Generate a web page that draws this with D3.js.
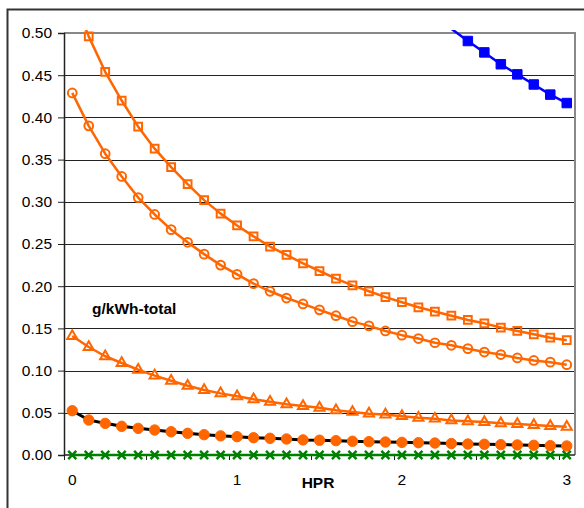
<!DOCTYPE html>
<html>
<head>
<meta charset="utf-8">
<script src="https://cdn.jsdelivr.net/npm/d3@7"></script>
<style>
  body { margin: 0; background: #fff; }
  text { font-family: "Liberation Sans", Arial, sans-serif; fill: #000; }
</style>
</head>
<body>
<div id="chart"></div>
<script>
'use strict';

// HPR categories (x axis)
const hpr = [0, 0.1, 0.2, 0.3, 0.4, 0.5, 0.6, 0.7, 0.8, 0.9,
             1, 1.1, 1.2, 1.3, 1.4, 1.5, 1.6, 1.7, 1.8, 1.9,
             2, 2.1, 2.2, 2.3, 2.4, 2.5, 2.6, 2.7, 2.8, 2.9, 3];
const xTickLabels = ["0", "1", "2", "3"];
const yTicks = [0, 0.05, 0.10, 0.15, 0.20, 0.25, 0.30, 0.35, 0.40, 0.45, 0.50];

// series
const openSquares = [0.544, 0.496, 0.454, 0.420, 0.389, 0.363, 0.341, 0.321, 0.302, 0.286,
                     0.272, 0.259, 0.247, 0.237, 0.227, 0.218, 0.209, 0.201, 0.194, 0.187,
                     0.181, 0.175, 0.170, 0.165, 0.160, 0.156, 0.151, 0.147, 0.143, 0.139, 0.136];
const openCircles = [0.429, 0.390, 0.357, 0.330, 0.305, 0.285, 0.267, 0.252, 0.238, 0.225,
                     0.214, 0.203, 0.194, 0.186, 0.179, 0.172, 0.165, 0.158, 0.153, 0.147,
                     0.142, 0.138, 0.133, 0.130, 0.126, 0.122, 0.119, 0.115, 0.112, 0.110, 0.107];
const triangles = [0.141, 0.128, 0.117, 0.109, 0.101, 0.094, 0.088, 0.082, 0.077, 0.073,
                   0.0695, 0.066, 0.063, 0.060, 0.058, 0.056, 0.053, 0.051, 0.049, 0.048,
                   0.046, 0.044, 0.043, 0.041, 0.040, 0.039, 0.0375, 0.0367, 0.0355, 0.0344, 0.0335];
const filledCircles = [0.0525, 0.0415, 0.0375, 0.034, 0.0316, 0.0296, 0.0276, 0.0257, 0.0241, 0.0227,
                       0.0217, 0.0205, 0.0198, 0.019, 0.0179, 0.0175, 0.017, 0.0163, 0.0158, 0.0154,
                       0.015, 0.0146, 0.0142, 0.0136, 0.013, 0.0127, 0.0123, 0.0119, 0.0115, 0.0111, 0.0107];
const crosses = [0, 0, 0, 0, 0, 0, 0, 0, 0, 0, 0, 0, 0, 0, 0, 0,
                 0, 0, 0, 0, 0, 0, 0, 0, 0, 0, 0, 0, 0, 0, 0];
// only the right end is inside the plot, the rest runs above 0.50
const blueSquares = [null, null, null, null, null, null, null, null, null, null,
                     null, null, null, null, null, null, null, null, null, null,
                     null, null, 0.520, 0.505, 0.4905, 0.477, 0.463, 0.451, 0.439, 0.427, 0.417];

const W = 584, H = 508;
const margin = { top: 33, right: 9, bottom: 53, left: 64 };
const width = W - margin.left - margin.right,
      height = H - margin.top - margin.bottom;

const svg = d3.select("#chart").append("svg")
    .attr("width", W)
    .attr("height", H);

// chart area border (runs off the right/bottom of the picture)
svg.append("rect")
    .attr("x", 7.5).attr("y", 9.5)
    .attr("width", 700).attr("height", 700)
    .attr("fill", "none")
    .attr("stroke", "#333")
    .attr("stroke-width", 2);

const g = svg.append("g")
    .attr("transform", "translate(" + margin.left + "," + margin.top + ")");

const x = d3.scaleBand()
    .domain(hpr)
    .range([0, width]);
const cx = d => x(d) + x.bandwidth() / 2;

const y = d3.scaleLinear()
    .domain([0, 0.5])
    .range([height, 0]);

// gridlines
g.selectAll(".grid")
    .data(yTicks.filter(v => v > 0 && v < 0.5))
    .enter().append("line")
    .attr("x1", 0).attr("x2", width)
    .attr("y1", d => Math.round(y(d)) + 0.5).attr("y2", d => Math.round(y(d)) + 0.5)
    .attr("stroke", "#222")
    .attr("stroke-width", 1);

// plot border: top and right in grey
g.append("path")
    .attr("d", "M0," + y(0.5) + "H" + width + "V" + height)
    .attr("fill", "none")
    .attr("stroke", "#888")
    .attr("stroke-width", 2);

// y axis
const yAxis = d3.axisLeft(y)
    .tickValues(yTicks)
    .tickSize(6)
    .tickPadding(6)
    .tickFormat(d3.format(".2f"));
const ya = g.append("g").call(yAxis);
ya.select(".domain").attr("stroke", "#222").attr("stroke-width", 1.5);
ya.selectAll(".tick line").attr("stroke", "#222");
ya.selectAll("text")
    .style("font-size", "15.5px")
    .attr("fill", "#000");

// x axis: ticks on every 5th category boundary, labels on every 10th category
const xa = g.append("g").attr("transform", "translate(0," + height + ")");
xa.append("line")
    .attr("x1", 0).attr("x2", width)
    .attr("stroke", "#222").attr("stroke-width", 1.5);
xa.selectAll(".xtick")
    .data(hpr.filter((d, i) => i % 5 === 0))
    .enter().append("line")
    .attr("x1", d => Math.round(x(d)) + 0.5).attr("x2", d => Math.round(x(d)) + 0.5)
    .attr("y1", 0).attr("y2", 5)
    .attr("stroke", "#222");
xa.selectAll(".xlabel")
    .data(xTickLabels)
    .enter().append("text")
    .attr("x", d => cx(+d))
    .attr("y", 30)
    .attr("text-anchor", "middle")
    .style("font-size", "15.5px")
    .text(d => d);

// series
const plot = g.append("g");
svg.append("clipPath").attr("id", "clip")
    .append("rect")
    .attr("x", -2).attr("y", -3)
    .attr("width", width + 4).attr("height", height + 10);
plot.attr("clip-path", "url(#clip)");

function pts(values) {
    return hpr.map((h, i) => ({ h: h, v: values[i] })).filter(d => d.v !== null);
}
const line = d3.line().x(d => cx(d.h)).y(d => y(d.v));

function drawLine(values, color, w) {
    plot.append("path")
        .datum(pts(values))
        .attr("d", line)
        .attr("fill", "none")
        .attr("stroke", color)
        .attr("stroke-width", w)
        .attr("stroke-linejoin", "round");
}

function drawMarkers(values, symbol, size, fill, stroke, sw) {
    plot.selectAll(null)
        .data(pts(values).filter(d => d.v <= 0.5))
        .enter().append("path")
        .attr("transform", d => "translate(" + cx(d.h) + "," + y(d.v) + ")")
        .attr("d", d3.symbol().type(symbol).size(size))
        .attr("fill", fill)
        .attr("stroke", stroke)
        .attr("stroke-width", sw);
}

const orange = "#ff6600";

drawLine(openSquares, orange, 2.5);
drawMarkers(openSquares, d3.symbolSquare, 60, "none", orange, 2);

drawLine(openCircles, orange, 2.5);
drawMarkers(openCircles, d3.symbolCircle, 60, "none", orange, 2);

drawLine(triangles, orange, 2.5);
drawMarkers(triangles, d3.symbolTriangle, 44, "none", orange, 2);

drawLine(filledCircles, "#000", 3);
drawMarkers(filledCircles, d3.symbolCircle, 85, orange, orange, 1);

drawLine(crosses, "#008000", 2.5);
drawMarkers(crosses, d3.symbolX, 44, "none", "#008000", 2.5);

drawLine(blueSquares, "#0000ff", 2.5);
drawMarkers(blueSquares, d3.symbolSquare, 90, "#0000ff", "#0000ff", 1);

// texts
g.append("text")
    .attr("x", 92 - margin.left)
    .attr("y", 314 - margin.top)
    .style("font-size", "15.5px")
    .style("font-weight", "bold")
    .text("g/kWh-total");

g.append("text")
    .attr("x", 318 - margin.left)
    .attr("y", 488 - margin.top)
    .attr("text-anchor", "middle")
    .style("font-size", "15.5px")
    .style("font-weight", "bold")
    .text("HPR");
</script>
</body>
</html>
